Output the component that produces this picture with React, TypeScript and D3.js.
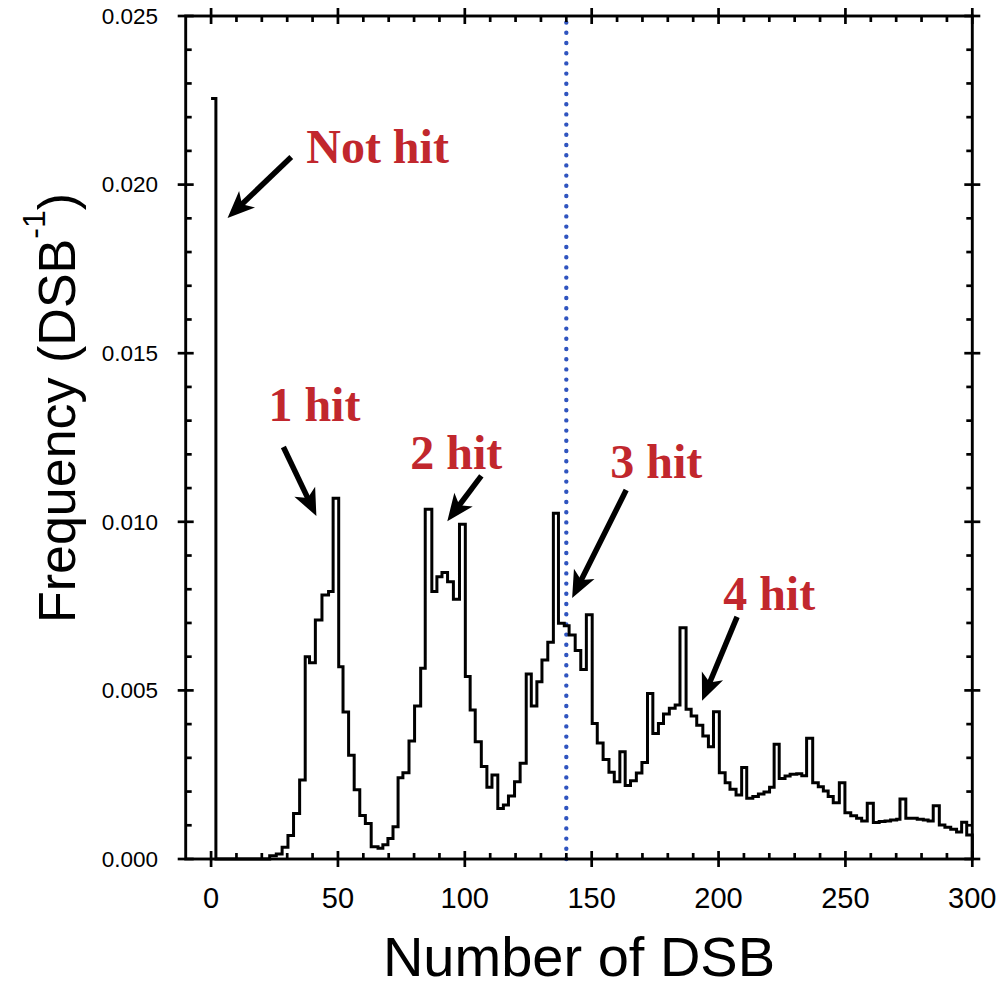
import React from "react";
import * as d3 from "d3";

// Histogram: each bin starts at binStarts[i] (DSB) and holds freq[i] (DSB^-1); last bin ends at X_END
const binStarts = [
  0, 1.9, 23.1, 25.7, 28.0, 30.3, 32.5, 34.9, 37.1, 38.8, 41.1, 43.7, 46.3, 48.1, 50.3, 52.0, 54.2, 56.4, 58.6, 60.8,
  63.1, 65.8, 67.7, 69.7, 71.7, 73.7, 75.6, 78.0, 80.2, 82.6, 84.4, 87.0, 89.0, 91.0, 93.2, 95.5, 97.9, 100.2, 102.1, 104.1,
  106.5, 108.7, 110.7, 113.0, 115.2, 117.2, 119.6, 121.8, 124.2, 126.2, 128.4, 130.4, 132.7, 134.9, 136.9, 139.2, 141.1, 143.5, 145.7, 147.9,
  150.2, 152.2, 154.5, 156.8, 158.9, 161.1, 163.2, 165.3, 167.6, 169.8, 172.0, 174.1, 176.3, 178.3, 180.6, 182.9, 184.8, 187.2, 189.2, 191.4,
  193.8, 196.0, 198.0, 200.3, 202.6, 204.5, 206.9, 209.1, 211.1, 213.5, 215.7, 217.9, 220.1, 221.9, 223.9, 226.2, 228.2, 230.8, 232.8, 234.7,
  237.1, 239.3, 241.3, 243.2, 245.2, 247.6, 249.8, 252.1, 254.4, 256.4, 258.6, 261.0, 263.3, 265.6, 267.8, 270.2, 271.5, 273.8, 276.1, 278.3,
  280.7, 282.6, 284.6, 287.0, 289.2, 291.5, 293.8, 295.8, 297.8,
];
const freq = [
  0.02255, 0, 0.0001, 0.00015, 0.00035, 0.0007, 0.00135, 0.00234, 0.006, 0.00582, 0.00709, 0.00783, 0.00793, 0.0107, 0.0057, 0.00436, 0.00308, 0.00205, 0.00129, 0.00105,
  0.00036, 0.00032, 0.00042, 0.00061, 0.00096, 0.00241, 0.00256, 0.0035, 0.00454, 0.00566, 0.01037, 0.00793, 0.00837, 0.0085, 0.00822, 0.0077, 0.00993, 0.00541, 0.00442, 0.00348,
  0.00274, 0.00213, 0.00249, 0.0015, 0.0016, 0.00187, 0.00229, 0.00284, 0.00549, 0.00454, 0.00526, 0.0059, 0.00643, 0.01025, 0.00699, 0.00692, 0.00664, 0.00618, 0.00562, 0.00724,
  0.00402, 0.00344, 0.00295, 0.00257, 0.00229, 0.00318, 0.00218, 0.00232, 0.00255, 0.00286, 0.00491, 0.00372, 0.00402, 0.0043, 0.00447, 0.00457, 0.00686, 0.00444, 0.00424, 0.00397,
  0.00365, 0.00333, 0.00437, 0.00256, 0.00226, 0.00207, 0.0019, 0.00271, 0.0018, 0.00185, 0.00193, 0.00199, 0.00213, 0.0034, 0.00239, 0.00246, 0.00251, 0.00253, 0.00247, 0.00358,
  0.00226, 0.00214, 0.00202, 0.00185, 0.00167, 0.00226, 0.00137, 0.00128, 0.00121, 0.00113, 0.00165, 0.00108, 0.00111, 0.00113, 0.00116, 0.00118, 0.00178, 0.00121, 0.00121, 0.00118,
  0.00116, 0.00113, 0.00158, 0.00101, 0.00094, 0.00088, 0.0008, 0.00109, 0.00071,
];
const X_END = 300;
const thresholdX = 140;

const xMajorTicks = [0, 50, 100, 150, 200, 250, 300];
const xMinorTicks = d3.range(10, 300, 10).filter((v) => v % 50 !== 0);
const yMajorTicks = [0, 0.005, 0.01, 0.015, 0.02, 0.025];
const yMinorTicks = d3.range(1, 25).filter((v) => v % 5 !== 0).map((v) => v / 1000);

const annLabels = ["Not hit", "1 hit", "2 hit", "3 hit", "4 hit"];
const annTextX = [37.5, 22.6, 78.5, 157.3, 201.8];
const annTextY = [0.02064, 0.01299, 0.01157, 0.0113, 0.00738];
const arrowFromX = [31.6, 28.5, 106.5, 163.6, 207.3];
const arrowFromY = [0.02082, 0.01222, 0.01136, 0.01094, 0.00718];
const arrowToX = [6.5, 41.5, 93.1, 142.3, 193.5];
const arrowToY = [0.01901, 0.01017, 0.01002, 0.00774, 0.00469];

const W = 999;
const H = 993;
const M = { left: 185.7, right: 972.3, top: 16, bottom: 859 };

export default function App() {
  const x = d3.scaleLinear().domain([-10, 300]).range([M.left, M.right]);
  const y = d3.scaleLinear().domain([0, 0.025]).range([M.bottom, M.top]);

  // step path
  const p = d3.path();
  p.moveTo(x(binStarts[0]), y(freq[0]));
  for (let i = 0; i < binStarts.length; i++) {
    const end = i + 1 < binStarts.length ? binStarts[i + 1] : X_END;
    p.lineTo(x(end), y(freq[i]));
    if (i + 1 < binStarts.length) p.lineTo(x(end), y(freq[i + 1]));
  }
  p.lineTo(x(X_END), y(0));

  const tickW = 2.7;
  const majLen = 8;
  const minLen = 6;
  const red = "#c1272d";

  const arrows = annLabels.map((_, i) => {
    const x1 = x(arrowFromX[i]);
    const y1 = y(arrowFromY[i]);
    const x2 = x(arrowToX[i]);
    const y2 = y(arrowToY[i]);
    const dx = x2 - x1;
    const dy = y2 - y1;
    const len = Math.hypot(dx, dy);
    const ux = dx / len;
    const uy = dy / len;
    const nx = -uy;
    const ny = ux;
    const hl = 27;
    const hw = 11.5;
    const notch = 20;
    const bx = x2 - ux * hl;
    const by = y2 - uy * hl;
    const head = [
      [x2, y2],
      [bx + nx * hw, by + ny * hw],
      [x2 - ux * notch, y2 - uy * notch],
      [bx - nx * hw, by - ny * hw],
    ];
    return (
      <g key={i}>
        <line x1={x1} y1={y1} x2={x2 - ux * (notch - 2)} y2={y2 - uy * (notch - 2)} stroke="#000" strokeWidth={5.5} />
        <polygon points={head.map((q) => q.join(",")).join(" ")} fill="#000" />
      </g>
    );
  });

  return (
    <svg width={W} height={H} style={{ position: "absolute", left: 0, top: 0, background: "#fff" }}>
      <rect x={0} y={0} width={W} height={H} fill="#fff" />
      {/* threshold dotted line */}
      <line
        x1={x(thresholdX)}
        x2={x(thresholdX)}
        y1={y(0)}
        y2={y(0.025)}
        stroke="#2f54bf"
        strokeWidth={4.4}
        strokeLinecap="round"
        strokeDasharray="0 10.2"
      />
      {/* histogram */}
      <path d={p.toString()} fill="none" stroke="#000" strokeWidth={3} strokeLinejoin="miter" />

      {/* frame */}
      <rect x={M.left} y={M.top} width={M.right - M.left} height={M.bottom - M.top} fill="none" stroke="#000" strokeWidth={2.9} />

      {/* x ticks bottom & top */}
      {xMajorTicks.map((t) => (
        <g key={"xM" + t}>
          <line x1={x(t)} x2={x(t)} y1={M.bottom - majLen} y2={M.bottom + majLen} stroke="#000" strokeWidth={tickW} />
          <line x1={x(t)} x2={x(t)} y1={M.top - majLen} y2={M.top + majLen} stroke="#000" strokeWidth={tickW} />
          <text x={x(t)} y={908} textAnchor="middle" fontFamily="Liberation Sans, Arial, sans-serif" fontSize={29}>
            {t}
          </text>
        </g>
      ))}
      {xMinorTicks.map((t) => (
        <g key={"xm" + t}>
          <line x1={x(t)} x2={x(t)} y1={M.bottom - minLen} y2={M.bottom} stroke="#000" strokeWidth={tickW} />
          <line x1={x(t)} x2={x(t)} y1={M.top} y2={M.top + minLen} stroke="#000" strokeWidth={tickW} />
        </g>
      ))}
      {/* y ticks left & right */}
      {yMajorTicks.map((t) => (
        <g key={"yM" + t}>
          <line x1={M.left - majLen} x2={M.left + majLen} y1={y(t)} y2={y(t)} stroke="#000" strokeWidth={tickW} />
          <line x1={M.right - majLen} x2={M.right + majLen} y1={y(t)} y2={y(t)} stroke="#000" strokeWidth={tickW} />
          <text
            x={158}
            y={y(t)}
            dy="0.35em"
            textAnchor="end"
            fontFamily="Liberation Sans, Arial, sans-serif"
            fontSize={22.5}
          >
            {d3.format(".3f")(t)}
          </text>
        </g>
      ))}
      {yMinorTicks.map((t) => (
        <g key={"ym" + t}>
          <line x1={M.left} x2={M.left + minLen} y1={y(t)} y2={y(t)} stroke="#000" strokeWidth={tickW} />
          <line x1={M.right - minLen} x2={M.right} y1={y(t)} y2={y(t)} stroke="#000" strokeWidth={tickW} />
        </g>
      ))}

      {/* axis titles */}
      <text x={579} y={976} textAnchor="middle" fontFamily="Liberation Sans, Arial, sans-serif" fontSize={56}>
        Number of DSB
      </text>
      <text
        transform="translate(75,408) rotate(-90)"
        textAnchor="middle"
        fontFamily="Liberation Sans, Arial, sans-serif"
        fontSize={52}
      >
        <tspan>Frequency (DSB</tspan>
        <tspan fontSize={32} dy={-30}>
          -1
        </tspan>
        <tspan dy={30}>)</tspan>
      </text>

      {/* annotations */}
      {arrows}
      {annLabels.map((s, i) => (
        <text
          key={s}
          x={x(annTextX[i])}
          y={y(annTextY[i])}
          fill={red}
          fontFamily="Liberation Serif, Times New Roman, serif"
          fontWeight="bold"
          fontSize={48}
        >
          {s}
        </text>
      ))}
    </svg>
  );
}
